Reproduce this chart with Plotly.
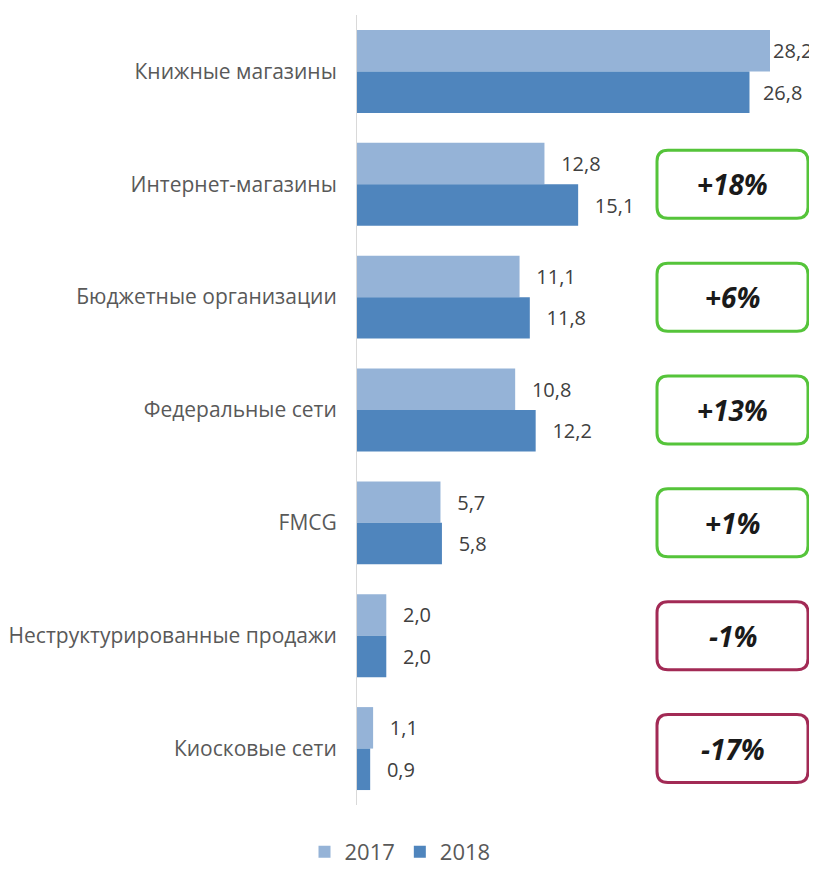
import plotly.graph_objects as go

categories = ["Книжные магазины", "Интернет-магазины", "Бюджетные организации",
              "Федеральные сети", "FMCG", "Неструктурированные продажи", "Киосковые сети"]
values_2017 = [28.2, 12.8, 11.1, 10.8, 5.7, 2.0, 1.1]
values_2018 = [26.8, 15.1, 11.8, 12.2, 5.8, 2.0, 0.9]
change_labels = [None, "+18%", "+6%", "+13%", "+1%", "-1%", "-17%"]

OFF = 8  # page body margin
W, H = 817 - OFF, 872 - OFF
L = 357 - OFF
T = 15 - OFF
PB = 805 - OFF          # plot bottom in figure px
PR = 810 - OFF          # plot right in figure px
R = W - PR
B = H - PB
PW, PH = PR - L, PB - T
px_per_unit = 413 / 28.2
xmax = PW / px_per_unit

vmax = max(values_2017 + values_2018)


def label_tpl(vals):
    out = []
    for v in vals:
        if v == vmax:
            out.append("%{x:.1f}")
        elif v > 0.9 * vmax:
            out.append("  %{x:.1f}")
        else:
            out.append("  \u2009%{x:.1f}")
    return out


fig = go.Figure()
fig.add_trace(go.Bar(
    name="2017", y=categories, x=values_2017, orientation="h",
    marker=dict(color="#95b3d7", line=dict(width=0)),
    texttemplate=label_tpl(values_2017), textposition="outside", cliponaxis=False,
    textfont=dict(family="Open Sans", size=20, color="#404040"),
))
fig.add_trace(go.Bar(
    name="2018", y=categories, x=values_2018, orientation="h",
    marker=dict(color="#4f85bd", line=dict(width=0)),
    texttemplate=label_tpl(values_2018), textposition="outside", cliponaxis=False,
    textfont=dict(family="Open Sans", size=20, color="#404040"),
))


def rounded_rect(x0, y0, x1, y1, rx, ry):
    return (f"M{x0+rx},{y0} L{x1-rx},{y0} Q{x1},{y0} {x1},{y0+ry} "
            f"L{x1},{y1-ry} Q{x1},{y1} {x1-rx},{y1} "
            f"L{x0+rx},{y1} Q{x0},{y1} {x0},{y1-ry} "
            f"L{x0},{y0+ry} Q{x0},{y0} {x0+rx},{y0} Z")


n = len(categories)
bx0 = (657 - OFF - L) / PW
bx1 = (808 - OFF - L) / PW
hh = 34 / PH
rx = 11 / PW
ry = 11 / PH
for i, lab in enumerate(change_labels):
    if lab is None:
        continue
    yc = 1 - (i + 0.5) / n
    color = "#55c43a" if lab.startswith("+") else "#a22a55"
    fig.add_shape(type="path", xref="paper", yref="paper",
                  path=rounded_rect(bx0, yc - hh, bx1, yc + hh, rx, ry),
                  line=dict(color=color, width=3), fillcolor="white")
    fig.add_annotation(xref="paper", yref="paper", x=(bx0 + bx1) / 2, y=yc,
                       xanchor="center", yanchor="middle",
                       text=f"<b><i>{lab}</i></b>", showarrow=False,
                       font=dict(family="Open Sans", size=28, color="#1a1a1a"))

fig.update_layout(
    width=W, height=H,
    margin=dict(l=L, r=R, t=T, b=B, pad=0, autoexpand=False),
    paper_bgcolor="white", plot_bgcolor="white",
    barmode="group", bargap=0.265, bargroupgap=0,
    separators=", ",
    showlegend=True,
    legend=dict(orientation="h", x=(392 - L) / PW, xanchor="center",
                y=-(844 - PB) / PH, yanchor="middle",
                font=dict(family="Open Sans", size=22, color="#595959"),
                itemwidth=30, traceorder="normal"),
    xaxis=dict(range=[0, xmax], visible=False, showgrid=False, zeroline=False),
    yaxis=dict(autorange="reversed", type="category", showline=True,
               linecolor="#d9d9d9", linewidth=1, showgrid=False, ticks="",
               ticklabelstandoff=15,
               tickfont=dict(family="Open Sans", size=21, color="#595959")),
)

fig.write_html("out.html")
